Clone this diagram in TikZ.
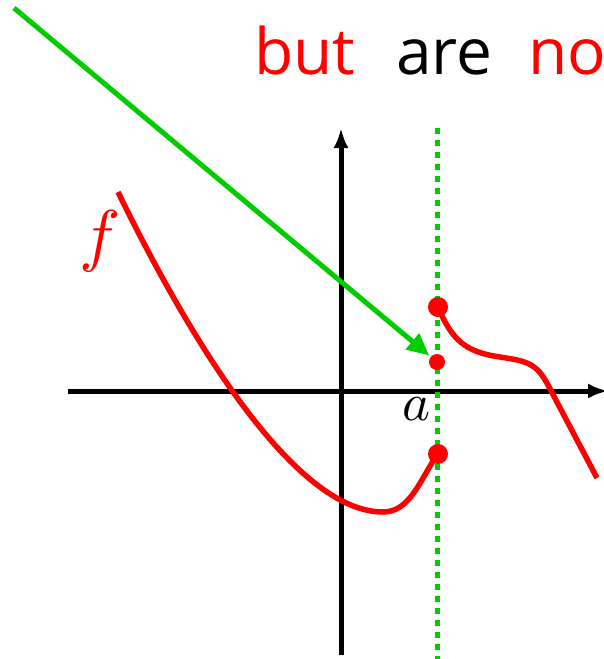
\documentclass[tikz,border=0pt]{standalone}
\usepackage{fontspec}
\setsansfont{Open Sans}
\usetikzlibrary{arrows.meta}
\definecolor{grn}{RGB}{0,204,0}
\tikzset{
  axis/.style={line width=5pt,-{Latex[length=20pt,width=15pt]}},
  fcurve/.style={red,line width=5.5pt,line join=round},
  dot/.style={circle,fill=red,inner sep=0pt,minimum size=#1},
  word/.style={anchor=base west,inner sep=0pt,font=\sffamily\fontsize{64}{70}\selectfont},
  pointer/.style={grn,line width=5pt,-{Triangle[length=22pt,width=20pt]},shorten >=2pt},
  guide/.style={grn,line width=5pt,dash pattern=on 6pt off 6pt}
}
\begin{document}
\begin{tikzpicture}[x=1pt,y=-1pt]
\useasboundingbox (0,0) rectangle (604,659);
% words
\node[word,red] (w1) at (254,74) {but};
\node[word] (w2) at (396,74) {are};
\node[word,red] (w3) at (528,74) {no};
% axes
\coordinate (xl) at (68,391);
\coordinate (xr) at (608,391);
\coordinate (yb) at (341,655);
\coordinate (yt) at (341,128);
\draw[axis] (xl) -- (xr);
\draw[axis] (yb) -- (yt);
% guide line at a
\coordinate (gt) at (437,128);
\coordinate (gb) at (437,662);
\draw[guide] (gt) -- (gb);
% curve pieces
\coordinate (ls) at (118,192);
\coordinate (lm) at (383,512);
\draw[fcurve] (ls) .. controls (200,360) and (300,512) .. (lm)
  .. controls (410,512) and (420,480) .. (437,455);
\coordinate (rm) at (500,357);
\coordinate (rk) at (548,385);
\coordinate (re) at (597,478);
\draw[fcurve] (438,307) .. controls (452,340) and (465,352) .. (rm)
  .. controls (525,361) and (536,362) .. (rk) -- (re);
% dots
\node[dot=20pt] (top) at (438,307) {};
\node[dot=16pt] (mid) at (437,362) {};
\node[dot=20pt] (bot) at (438,454) {};
% labels
\node[red,scale=6.9] (f) at (100,241) {$f$};
\node[scale=5.3] (a) at (417,409) {$a$};
% pointer
\coordinate (ps) at (14,8);
\draw[pointer] (ps) -- (mid);
\end{tikzpicture}
\end{document}
